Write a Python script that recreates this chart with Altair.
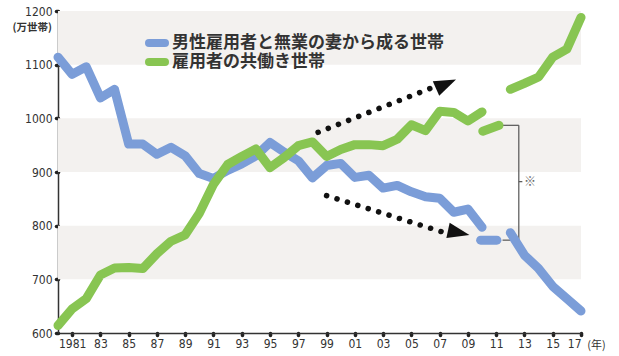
import altair as alt
import pandas as pd

# ---------------- data ----------------
years = list(range(1980, 2018))
male_only = [1114, 1082, 1096, 1038, 1054, 952, 952, 933, 946, 930,
             897, 888, 903, 915, 930, 955, 937, 921, 889, 912,
             916, 890, 894, 870, 875, 863, 854, 851, 825, 831,
             797, 773, 787, 745, 720, 687, 664, 641]
dual_income = [614, 645, 664, 708, 721, 722, 720, 748, 771, 783,
               823, 877, 914, 929, 943, 908, 927, 949, 956, 929,
               942, 951, 951, 949, 961, 988, 977, 1013, 1011, 995,
               1012, 987, 1054, 1065, 1077, 1114, 1129, 1188]

male_label = "男性雇用者と無業の妻から成る世帯"
dual_label = "雇用者の共働き世帯"
series_names = [male_label, dual_label]
series_colors = ["#7b9dd8", "#88c552"]

# 2011 figures drawn as short separate strokes (series, year, value)
seg_series = [male_label, male_label, dual_label, dual_label]
seg_year = [2009.9, 2011.05, 2010.05, 2011.2]
seg_value = [773, 773, 976, 987]

# shaded bands (low, high)
band_lo = [1100, 900, 700]
band_hi = [1200, 1000, 800]

# dotted trend arrows (id, year, value)
arrow_id = ["up", "up", "down", "down"]
arrow_year = [1998.4, 2006.55, 1999.0, 2007.35]
arrow_value = [974, 1058, 856, 787]
# arrow heads (year, value, screen angle)
head_year = [2007.45, 2008.35]
head_value = [1064, 787]
head_angle = [336, 12]

# bracket marking the 2011 figures
br_x = [2012.6, 2011.45, 2011.45, 2012.6]
br_x2 = [2012.6, 2012.6, 2012.6, 2012.85]
br_y = [987, 987, 773, 882]
br_y2 = [773, 987, 773, 882]
note_year = [2013.4]
note_value = [882]
note_text = ["※"]

x_ticks = list(range(1981, 2018, 2))
y_ticks = [600, 700, 800, 900, 1000, 1100, 1200]

# ---------------- tables ----------------
rows = []
for name, vals in [(male_label, male_only), (dual_label, dual_income)]:
    for y, v in zip(years, vals):
        if y == 2011:
            continue
        rows.append({"series": name, "year": y, "value": v,
                     "part": name + ("a" if y <= 2010 else "b")})
lines_df = pd.DataFrame(rows)
seg_df = pd.DataFrame({"series": seg_series, "year": seg_year, "value": seg_value})
band_df = pd.DataFrame({"lo": band_lo, "hi": band_hi})
arrow_df = pd.DataFrame({"id": arrow_id, "year": arrow_year, "value": arrow_value})
head_df = pd.DataFrame({"year": head_year, "value": head_value, "angle": head_angle})
br_df = pd.DataFrame({"x": br_x, "x2": br_x2, "y": br_y, "y2": br_y2})
note_df = pd.DataFrame({"year": note_year, "value": note_value, "t": note_text})
legend_df = pd.DataFrame({"series": series_names, "row": [0, 1]})

label_font = "Liberation Sans Narrow, DejaVu Sans Condensed, sans-serif"
xscale = alt.Scale(domain=[1980, 2017], nice=False, zero=False)
yscale = alt.Scale(domain=[600, 1200], nice=False, zero=False)

xaxis = alt.Axis(values=x_ticks, title="(年)", grid=False,
                 labelExpr="datum.value == 1981 ? '1981' : slice('0' + (datum.value % 100), -2)",
                 labelFont=label_font, labelFontSize=12, labelColor="#333",
                 labelPadding=3, domainColor="#333", domainWidth=1.5,
                 tickColor="#222", tickSize=2, tickWidth=3.5, tickCap="round",
                 titleFont="Noto Sans CJK JP", titleFontSize=11, titleFontWeight="normal",
                 titleColor="#333", titleX=538, titleY=12, titleAlign="center",
                 titleBaseline="middle", titleAnchor="start")
yaxis = alt.Axis(values=y_ticks, format="d", title="(万世帯)", grid=False,
                 labelFont=label_font, labelFontSize=12, labelColor="#333",
                 labelPadding=4, domainColor="#333", domainWidth=1.5,
                 tickColor="#222", tickSize=2, tickWidth=3.5, tickCap="round",
                 titleFont="Noto Sans CJK JP", titleFontSize=10.5, titleFontWeight="bold",
                 titleColor="#333", titleAngle=0, titleX=-46, titleY=16,
                 titleAlign="left", titleBaseline="middle", titleAnchor="start")

color_scale = alt.Scale(domain=series_names, range=series_colors)

bands = alt.Chart(band_df).mark_rect(color="#f3f1ef").encode(
    x=alt.X(datum=1980, type="quantitative", scale=xscale, axis=xaxis),
    x2=alt.X2(datum=2017),
    y=alt.Y("lo:Q", scale=yscale, axis=yaxis),
    y2="hi:Q",
)

lines = alt.Chart(lines_df).mark_line(strokeWidth=9, strokeCap="round", strokeJoin="round").encode(
    x=alt.X("year:Q", scale=xscale, axis=xaxis),
    y=alt.Y("value:Q", scale=yscale, axis=yaxis),
    color=alt.Color("series:N", scale=color_scale, legend=None),
    detail="part:N",
    order=alt.Order("year:Q"),
)

segs = alt.Chart(seg_df).mark_line(strokeWidth=9, strokeCap="round").encode(
    x=alt.X("year:Q", scale=xscale, axis=xaxis),
    y=alt.Y("value:Q", scale=yscale, axis=yaxis),
    color=alt.Color("series:N", scale=color_scale, legend=None),
)

arrows = alt.Chart(arrow_df).mark_line(color="#111", strokeWidth=5.5, strokeCap="round",
                                       strokeDash=[0.1, 10.8]).encode(
    x=alt.X("year:Q", scale=xscale, axis=xaxis),
    y=alt.Y("value:Q", scale=yscale, axis=yaxis),
    detail="id:N",
)

heads = alt.Chart(head_df).mark_point(shape="M1,0 L-1,-0.72 L-1,0.72 Z", filled=True,
                                      color="#111", opacity=1, size=480).encode(
    x=alt.X("year:Q", scale=xscale, axis=xaxis),
    y=alt.Y("value:Q", scale=yscale, axis=yaxis),
    angle=alt.Angle("angle:Q", scale=None),
)

bracket = alt.Chart(br_df).mark_rule(color="#555", strokeWidth=1.2).encode(
    x=alt.X("x:Q", scale=xscale, axis=xaxis),
    x2="x2:Q",
    y=alt.Y("y:Q", scale=yscale, axis=yaxis),
    y2="y2:Q",
)

note = alt.Chart(note_df).mark_text(fontSize=12, color="#666", font="Noto Sans CJK JP").encode(
    x=alt.X("year:Q", scale=xscale, axis=xaxis),
    y=alt.Y("value:Q", scale=yscale, axis=yaxis),
    text="t:N",
)

# in-plot legend
legend_base = alt.Chart(legend_df).transform_calculate(ly="32 + datum.row * 19")
legend_swatch = legend_base.mark_rule(strokeWidth=8, strokeCap="round").encode(
    x=alt.value(91), x2=alt.value(107),
    y=alt.Y("ly:Q", scale=None),
    color=alt.Color("series:N", scale=color_scale, legend=None),
)
legend_text = legend_base.mark_text(align="left", baseline="middle", fontSize=17,
                                    fontWeight="bold", font="Noto Sans CJK JP",
                                    color="#333").encode(
    x=alt.value(114),
    y=alt.Y("ly:Q", scale=None),
    text="series:N",
)

chart = alt.layer(bands, bracket, lines, segs, arrows, heads, note,
                  legend_swatch, legend_text).properties(
    width=523, height=322,
    autosize=alt.AutoSizeParams(type="none"),
    padding={"left": 58, "top": 11, "right": 38, "bottom": 23},
    background="white",
).configure_view(stroke=None)

chart.save("out.html", embed_options={"renderer": "svg", "actions": False})
